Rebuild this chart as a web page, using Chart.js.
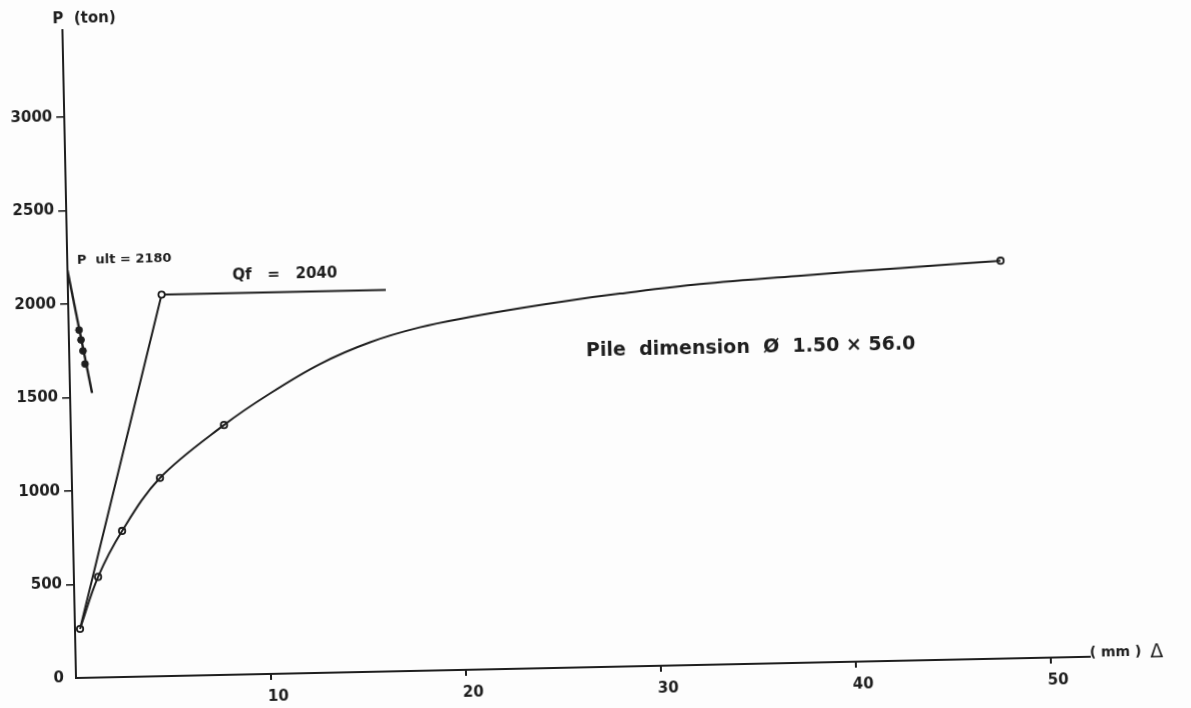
<!DOCTYPE html>
<html>
<head>
<meta charset="utf-8">
<title>Pile load test</title>
<script src="https://cdn.jsdelivr.net/npm/chart.js@4.4.1/dist/chart.umd.min.js"></script>
<style>
  html, body { margin: 0; padding: 0; background: #fdfdfd; }
  /* the original sheet sits slightly tilted */
  #loadTest { display: block; transform: rotate(-1.2deg); transform-origin: 76px 678px; }
</style>
</head>
<body>
<canvas id="loadTest" width="1191" height="708"></canvas>
<script>
// measured points: settlement (mm) and load (ton)
const testSettle = [0.26, 1.24, 2.52, 4.52, 7.86, 47.85];
const testLoad = [262, 538, 781, 1060, 1336, 2127];

// hand-drawn load-settlement curve
const curveSettle = [0.26, 1.24, 2.52, 4.52, 7.86, 10.26, 12.86, 15.44, 18.0, 20.6, 23.2, 25.7, 28.3, 32.4, 37.6, 42.7, 47.85];
const curveLoad = [262, 538, 781, 1060, 1336, 1500, 1652, 1762, 1836, 1886, 1928, 1963, 1994, 2036, 2070, 2099, 2127];

// initial tangent and Qf level
const qfSettle = [0.26, 4.8, 16.3];
const qfLoad = [262, 2040, 2040];

// extrapolation to P ult
const ultSettle = [0, 1.13];
const ultLoad = [2180, 1522];
const ultDotSettle = [0.53, 0.62, 0.71, 0.80];
const ultDotLoad = [1860, 1807, 1748, 1678];

const xTicks = [10, 20, 30, 40, 50];
const yTicks = [0, 500, 1000, 1500, 2000, 2500, 3000];

const ink = '#1e1e1e';
const font = 'DejaVu Sans';

const pts = (xs, ys) => xs.map((x, i) => ({ x: x, y: ys[i] }));

const annotations = {
    id: 'annotations',
    afterDraw(chart) {
        const { ctx, scales } = chart;
        const put = (text, mx, my, align, size, weight) => {
            ctx.font = (weight || 'bold') + ' ' + size + 'px "' + font + '"';
            ctx.textAlign = align;
            ctx.fillText(text, scales.x.getPixelForValue(mx), scales.y.getPixelForValue(my));
        };
        ctx.save();
        ctx.fillStyle = ink;
        ctx.textBaseline = 'middle';
        put('P  (ton)', 1.12, 3524, 'center', 15);
        put('P  ult = 2180', 0.5, 2232, 'left', 13);
        put('Qf   =   2040', 8.45, 2135, 'left', 15);
        put('Pile  dimension  Ø  1.50 × 56.0', 34.95, 1689, 'center', 19);
        put('( mm )', 52.0, 17, 'left', 14);
        put('Δ', 55.1, 17, 'left', 19, 'normal');
        ctx.restore();
    }
};

new Chart(document.getElementById('loadTest').getContext('2d'), {
    type: 'scatter',
    data: {
        datasets: [
            {
                label: 'curve',
                data: pts(curveSettle, curveLoad),
                showLine: true,
                borderColor: ink,
                borderWidth: 2,
                pointRadius: 0,
                tension: 0.35
            },
            {
                label: 'measured',
                data: pts(testSettle, testLoad),
                borderColor: ink,
                backgroundColor: '#fdfdfd',
                borderWidth: 1.8,
                pointRadius: 3.2
            },
            {
                label: 'Qf',
                data: pts(qfSettle, qfLoad),
                showLine: true,
                borderColor: ink,
                backgroundColor: '#fdfdfd',
                borderWidth: 2,
                pointRadius: [0, 3.2, 0],
                pointBorderWidth: 1.8
            },
            {
                label: 'P ult',
                data: pts(ultSettle, ultLoad),
                showLine: true,
                borderColor: ink,
                borderWidth: 2.4,
                pointRadius: 0
            },
            {
                label: 'P ult points',
                data: pts(ultDotSettle, ultDotLoad),
                borderColor: ink,
                backgroundColor: ink,
                pointRadius: 3.4
            }
        ]
    },
    options: {
        responsive: false,
        animation: false,
        layout: { padding: { top: 30, right: 101, left: 0, bottom: 0 } },
        plugins: {
            legend: { display: false },
            tooltip: { enabled: false }
        },
        scales: {
            x: {
                type: 'linear',
                min: 0,
                max: 52,
                afterBuildTicks: (scale) => { scale.ticks = xTicks.map(v => ({ value: v })); },
                afterFit: (scale) => { scale.height = 30; },
                border: { color: ink, width: 2 },
                grid: { drawOnChartArea: false, color: ink, lineWidth: 2, tickLength: 6 },
                ticks: {
                    color: ink,
                    font: { family: font, size: 15, weight: 'bold' },
                    padding: 8,
                    labelOffset: 7,
                    maxRotation: 0,
                    callback: (v) => String(v)
                }
            },
            y: {
                type: 'linear',
                min: 0,
                max: 3465,
                afterBuildTicks: (scale) => { scale.ticks = yTicks.map(v => ({ value: v })); },
                afterFit: (scale) => { scale.width = 76; },
                border: { color: ink, width: 2 },
                grid: {
                    drawOnChartArea: false,
                    color: (c) => (c.tick && c.tick.value === 0 ? 'rgba(0,0,0,0)' : ink),
                    lineWidth: 1.6,
                    tickLength: 8
                },
                ticks: {
                    color: ink,
                    font: { family: font, size: 15, weight: 'bold' },
                    padding: 4,
                    callback: (v) => String(v)
                }
            }
        }
    },
    plugins: [annotations]
});
</script>
</body>
</html>
